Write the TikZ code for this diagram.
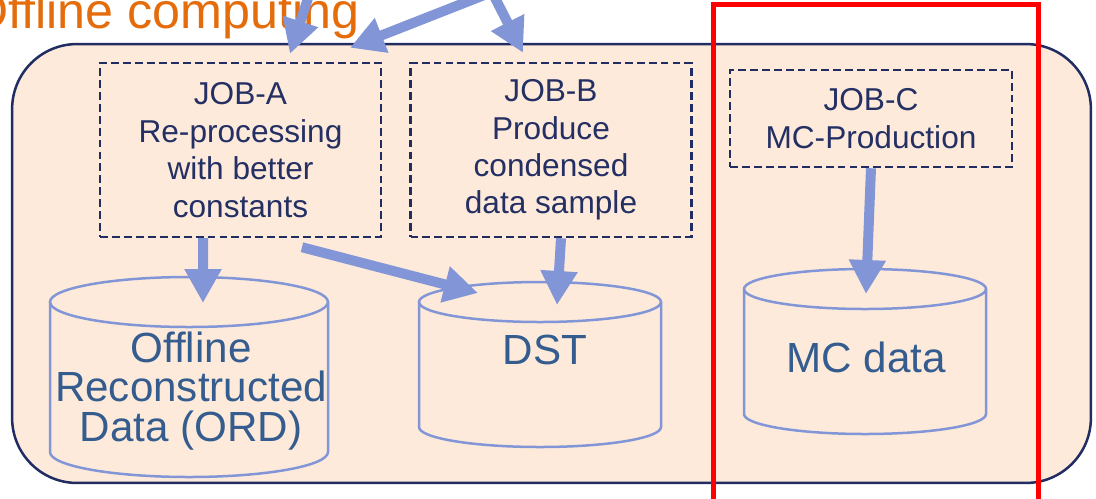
\documentclass[tikz,border=0pt]{standalone}
\usepackage{fontspec}
\setmainfont{Liberation Sans}
\usetikzlibrary{arrows.meta}
\definecolor{off_fill}{RGB}{253, 234, 218}
\definecolor{off_line}{RGB}{32, 44, 98}
\definecolor{off_text}{RGB}{36, 48, 100}
\definecolor{off_orange}{RGB}{228, 108, 10}
\definecolor{db_line}{RGB}{130, 150, 215}
\definecolor{db_text}{RGB}{52, 92, 142}
\tikzstyle{panel}=[rectangle,rounded corners=1.3cm,fill=off_fill,draw=off_line,
  line width=0.05cm,minimum width=21.58cm,minimum height=8.78cm]
\tikzstyle{job}=[rectangle,draw=off_line,dash pattern=on 4.5pt off 2.3pt,
  line width=0.05cm,text=off_text,align=center,inner sep=0pt,
  font=\fontsize{18}{21.3}\selectfont,minimum width=5.62cm]
\tikzstyle{dbtext}=[text=db_text,align=center,inner sep=0pt,
  font=\fontsize{24}{22.7}\selectfont]
\tikzstyle{drum}=[draw=db_line,line width=0.05cm]
\tikzstyle{flow}=[draw=db_line,line width=0.2cm,-{Triangle[length=0.68cm,width=0.7cm]}]
\tikzstyle{title}=[text=off_orange,inner sep=0pt,font=\fontsize{28.6}{30}\selectfont]
% name, centre x, top y, bottom y, x radius, y radius
\newcommand{\drum}[6]{%
  \draw[drum] (#2-#5,#3) -- (#2-#5,#4) arc[start angle=180,end angle=0,x radius=#5,y radius=#6] -- (#2+#5,#3);
  \draw[drum] (#2,#3) ellipse[x radius=#5,y radius=#6];
  \coordinate (#1) at (#2,#3);}
\begin{document}
\begin{tikzpicture}[x=0.02cm,y=-0.02cm]
    \clip (0,0) rectangle (1096,498);
    \node [style=panel] (offline) at (551.5,263.5) {};
    \draw [red,line width=0.1cm] (713,4) rectangle (1038,520);
    \node [style=title,anchor=base west] (ttl) at (-31,28) {Offline computing};
    \node [style=job,minimum height=3.48cm] (joba) at (240.5,150) {JOB-A\\Re-processing\\with better\\constants};
    \node [style=job,minimum height=3.48cm] (jobb) at (551,150) {JOB-B\\Produce\\condensed\\data sample};
    \node [style=job,minimum height=1.94cm,minimum width=5.64cm] (jobc) at (871,118.5) {JOB-C\\MC-Production};
    \drum{ord}{189}{302}{452}{139}{25}
    \drum{dst}{540}{302}{427}{121}{20}
    \drum{mc}{865}{289}{414}{121}{20}
    \node [style=dbtext] (ordlbl) at (191,391) {Offline\\Reconstructed\\Data (ORD)};
    \node [style=dbtext] (dstlbl) at (545,350) {DST};
    \node [style=dbtext] (mclbl) at (866,357) {MC data};
    \coordinate (srcl) at (310,-8);
    \coordinate (srcr) at (492,-8);
    \draw [style=flow] (srcl) to ([xshift=0.99cm,yshift=0.16cm]joba.north);
    \draw [style=flow] (srcr) to ([xshift=2.19cm,yshift=0.28cm]joba.north);
    \draw [style=flow] (srcr) to ([xshift=-0.56cm,yshift=0.18cm]jobb.north);
    \draw [style=flow] ([xshift=-0.75cm]joba.south) to ([xshift=0.28cm,yshift=-0.02cm]ord);
    \draw [style=flow] ([xshift=1.23cm,yshift=-0.18cm]joba.south) to ([xshift=-1.24cm,yshift=0.18cm]dst);
    \draw [style=flow] ([xshift=0.2cm]jobb.south) to ([xshift=0.34cm,yshift=-0.06cm]dst);
    \draw [style=flow] (jobc.south) to ([xshift=0.02cm,yshift=-0.1cm]mc);
  \end{tikzpicture}
\end{document}
